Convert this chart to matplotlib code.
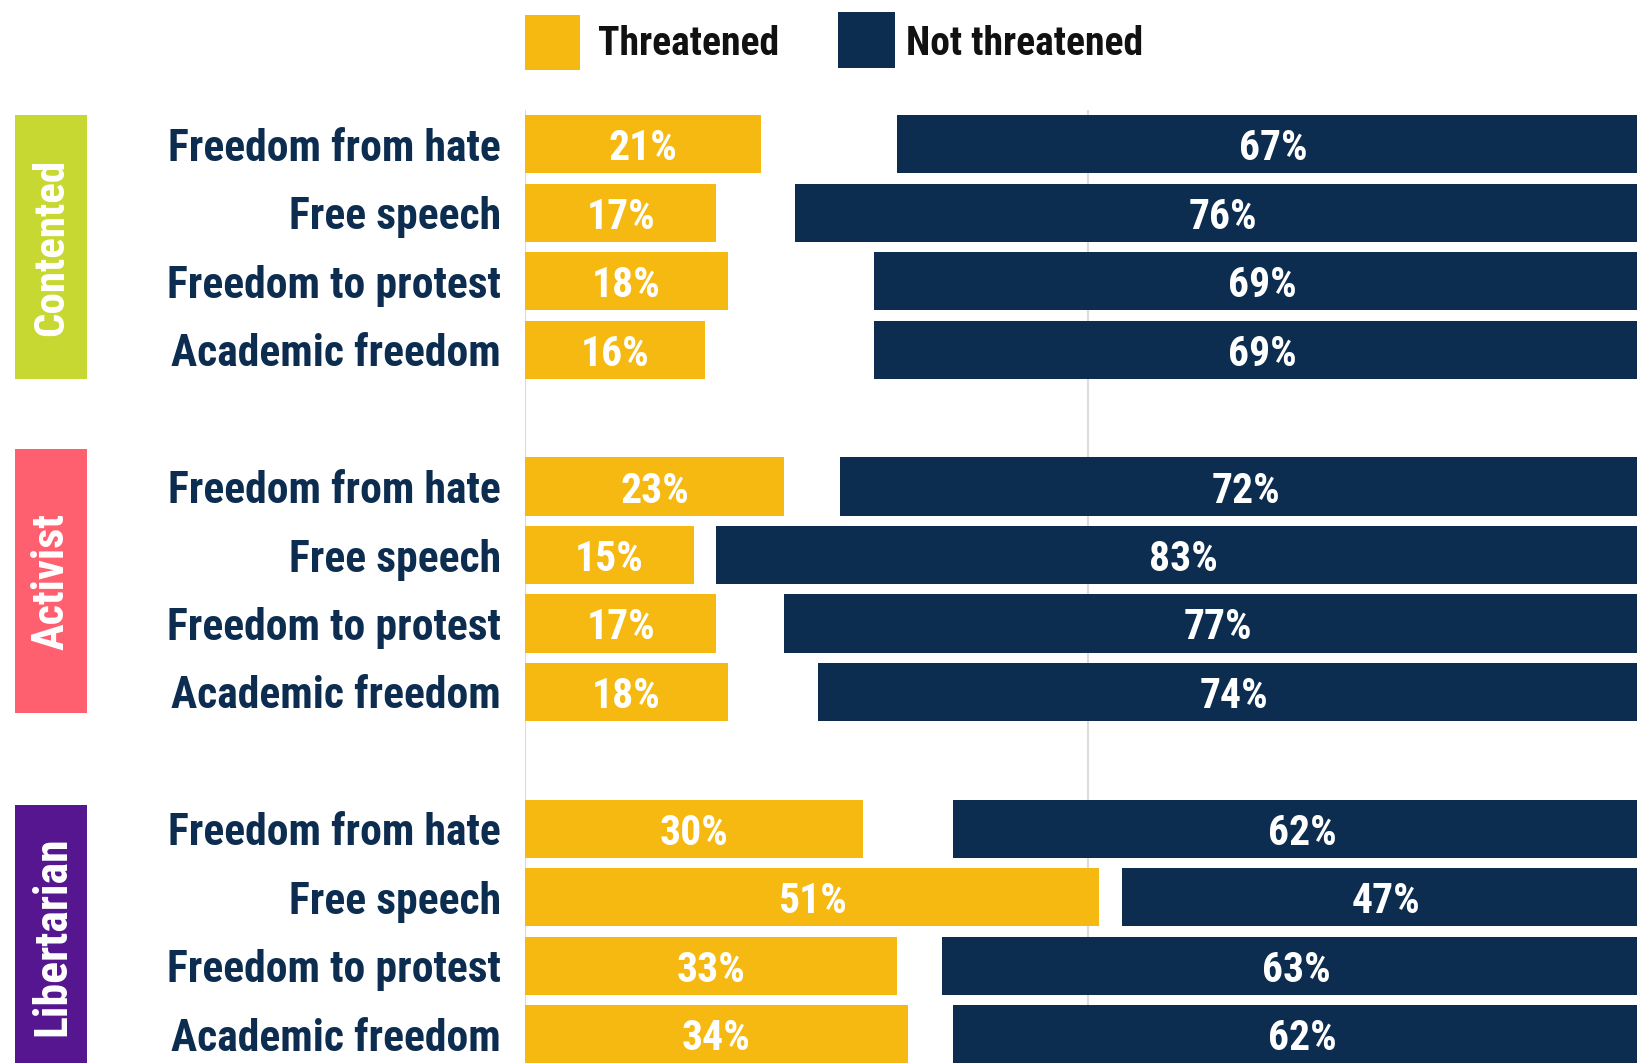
import matplotlib
matplotlib.use("Agg")
import matplotlib.pyplot as plt
from matplotlib import font_manager
from matplotlib.patches import Rectangle
from matplotlib.transforms import blended_transform_factory

# ---------------- data ----------------
groups = ["Contented", "Activist", "Libertarian"]
categories = ["Freedom from hate", "Free speech", "Freedom to protest", "Academic freedom"]
threatened_contented = [21, 17, 18, 16]
threatened_activist = [23, 15, 17, 18]
threatened_libertarian = [30, 51, 33, 34]
not_threatened_contented = [67, 76, 69, 69]
not_threatened_activist = [72, 83, 77, 74]
not_threatened_libertarian = [62, 47, 63, 62]
legend_labels = ["Threatened", "Not threatened"]

threatened = [threatened_contented, threatened_activist, threatened_libertarian]
not_threatened = [not_threatened_contented, not_threatened_activist, not_threatened_libertarian]

# ---------------- style ----------------
YELLOW = "#F5B911"
NAVY = "#0D2D50"
GROUP_COLORS = ["#C8D832", "#FF6070", "#55168F"]
GROUP_FONT_SIZES = [31, 32, 33]
GRID = "#DCDCDC"

names = {f.name for f in font_manager.fontManager.ttflist}
FONT = "Roboto Condensed" if "Roboto Condensed" in names else "DejaVu Sans"
fkw = dict(family=[FONT, "DejaVu Sans"], fontweight="bold")

W, H = 1637, 1063
fig = plt.figure(figsize=(W / 100, H / 100), dpi=100)
fig.patch.set_facecolor("white")

ax_left = 525
ax_top = 110
ax = fig.add_axes([ax_left / W, 0, 1 - ax_left / W, (H - ax_top) / H])
ax.set_xlim(0, 98.76)
ax.set_ylim(13.42, -0.5)
ax.axis("off")
for gx in (0, 50):
    ax.axvline(gx, color=GRID, lw=1.5, zorder=0)

bar_h = 0.85
trans_lab = blended_transform_factory(fig.transFigure, ax.transData)
box_offsets = [0.0, -0.12, 0.07]

for gi, g in enumerate(groups):
    rows = [gi * 5 + i for i in range(len(categories))]
    t = threatened[gi]
    n = not_threatened[gi]
    ax.barh(rows, t, left=0, height=bar_h, color=YELLOW, zorder=2)
    ax.barh(rows, n, left=[100 - v for v in n], height=bar_h, color=NAVY, zorder=2)
    for r, tv, nv, cat in zip(rows, t, n, categories):
        ax.text(tv / 2, r, f"{tv}%", color="white", ha="center", va="center_baseline",
                fontsize=30, zorder=3, **fkw)
        ax.text(100 - nv / 2, r, f"{nv}%", color="white", ha="center", va="center_baseline",
                fontsize=30, zorder=3, **fkw)
        ax.text(501 / W, r, cat, color=NAVY, ha="right", va="center_baseline",
                fontsize=31.5, transform=trans_lab, **fkw)
    # group box
    y0 = rows[0] - bar_h / 2 + box_offsets[gi]
    y1 = rows[-1] + bar_h / 2 + box_offsets[gi]
    rect = Rectangle((15 / W, y0), 72 / W, y1 - y0, transform=trans_lab,
                     facecolor=GROUP_COLORS[gi], edgecolor="none", clip_on=False)
    ax.add_patch(rect)
    ax.text(52 / W, (y0 + y1) / 2, g, color="white", rotation=90, ha="center",
            va="center", fontsize=GROUP_FONT_SIZES[gi], transform=trans_lab, **fkw)

# ---------------- legend ----------------
fig.add_artist(Rectangle((525 / W, 1 - 70 / H), 55 / W, 55 / H,
                         transform=fig.transFigure, facecolor=YELLOW, edgecolor="none"))
fig.text(598 / W, 1 - 40 / H, legend_labels[0], color="#111111", ha="left",
         va="center_baseline", fontsize=28.5, **fkw)
fig.add_artist(Rectangle((838 / W, 1 - 68 / H), 57 / W, 56 / H,
                         transform=fig.transFigure, facecolor=NAVY, edgecolor="none"))
fig.text(906 / W, 1 - 40 / H, legend_labels[1], color="#111111", ha="left",
         va="center_baseline", fontsize=28.5, **fkw)

fig.savefig("out.png", dpi=100, facecolor="white")
